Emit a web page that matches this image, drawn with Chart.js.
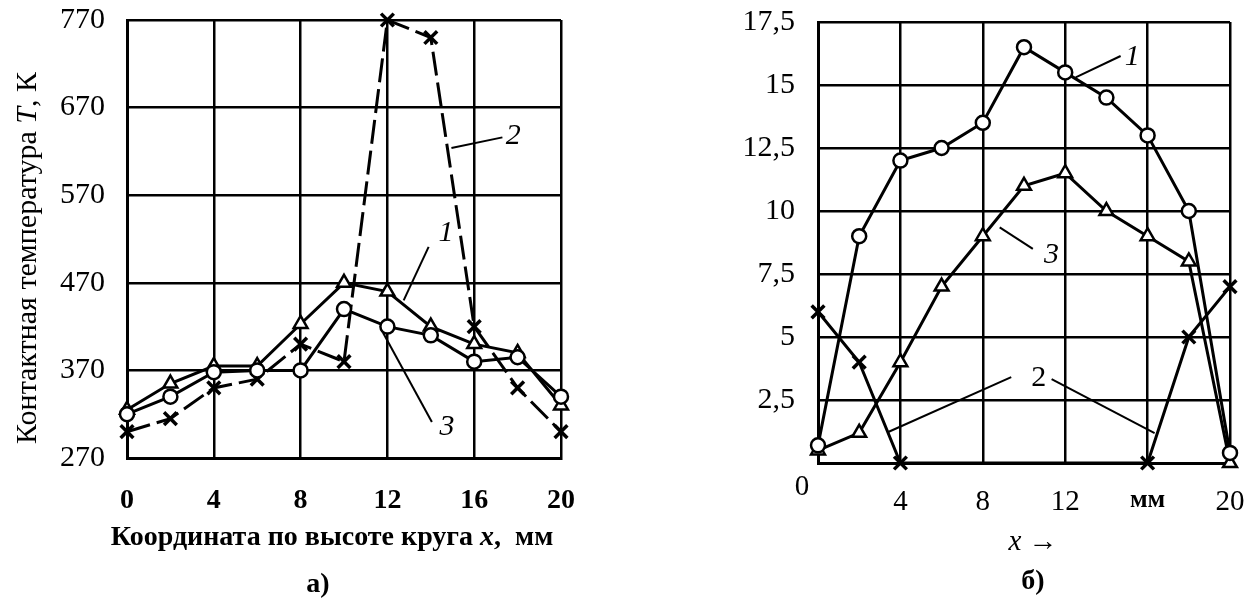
<!DOCTYPE html>
<html>
<head>
<meta charset="utf-8">
<script src="https://cdn.jsdelivr.net/npm/chart.js@4.4.1/dist/chart.umd.min.js"></script>
<style>
  html, body { margin: 0; padding: 0; background: #fff; }
  #boxA { position: absolute; left: 0; top: 0; width: 630px; height: 598px; }
  #boxB { position: absolute; left: 630px; top: 0; width: 627px; height: 598px; }
</style>
</head>
<body>
<div id="boxA"><canvas id="chartA" width="630" height="598"></canvas></div>
<div id="boxB"><canvas id="chartB" width="627" height="598"></canvas></div>
<script>
// ---- данные: а) контактная температура ----
const xMm = [0, 2, 4, 6, 8, 10, 12, 14, 16, 18, 20];
const tempCurve1 = [325, 355, 375, 375, 423, 470, 460, 420, 400, 390, 330];  // треугольники
const tempCurve2 = [300, 315, 350, 360, 400, 380, 770, 750, 420, 350, 300];  // крестики
const tempCurve3 = [320, 340, 368, 370, 370, 440, 420, 410, 380, 385, 340];  // кружки
const tempTicks = [270, 370, 470, 570, 670, 770];
const xTicksA = [0, 4, 8, 12, 16, 20];

// ---- данные: б) ----
const valCurve1 = [0.7, 9, 12, 12.5, 13.5, 16.5, 15.5, 14.5, 13, 10, 0.4];   // кружки
const valCurve3 = [0.5, 1.2, 4, 7, 9, 11, 11.5, 10, 9, 8, 0];               // треугольники
const valCurve2 = [6, 4, 0, null, null, null, null, null, 0, 5, 7];          // крестики
const valTicks = [0, 2.5, 5, 7.5, 10, 12.5, 15, 17.5];
const xTicksB = [0, 4, 8, 12, 16, 20];
const xTickLabelsB = ["", "4", "8", "12", "мм", "20"];

// подписи кривых (в координатах данных)
const notesA = [
  { text: "2", x: 17.8, y: 638, from: [14.95, 624], to: [17.3, 636] },
  { text: "1", x: 14.7, y: 527, from: [13.9, 511], to: [12.75, 450] },
  { text: "3", x: 14.75, y: 305, from: [14.05, 311], to: [11.8, 413] }
];
const notesB = [
  { text: "1", x: 15.26, y: 16.1, from: [14.69, 16.15], to: [12.51, 15.3] },
  { text: "3", x: 11.34, y: 8.25, from: [10.43, 8.5], to: [8.82, 9.35] },
  { text: "2", x: 10.71, y: 3.37, from: [9.38, 3.41], to: [3.41, 1.23], upright: true },
  { text: "", x: 0, y: 0, from: [11.34, 3.33], to: [16.34, 1.19] }
];

const FONT = '"Liberation Serif", "Times New Roman", serif';

function pts(xs, ys) {
  return xs.map((x, i) => ({ x: x, y: ys[i] }));
}

function drawParts(ctx, parts, x, y, size, rotate) {
  ctx.save();
  ctx.translate(x, y);
  if (rotate) ctx.rotate(-Math.PI / 2);
  ctx.fillStyle = "#000";
  ctx.textBaseline = "middle";
  ctx.textAlign = "left";
  let total = 0;
  parts.forEach(p => {
    ctx.font = `${p.s} ${size}px ${FONT}`;
    p.w = ctx.measureText(p.t).width;
    total += p.w;
  });
  let cx = -total / 2;
  parts.forEach(p => {
    ctx.font = `${p.s} ${size}px ${FONT}`;
    ctx.fillText(p.t, cx, 0);
    cx += p.w;
  });
  ctx.restore();
}

function notesPlugin(notes, extra) {
  return {
    id: "notes",
    afterDraw(chart) {
      const ctx = chart.ctx;
      const xs = chart.scales.x, ys = chart.scales.y;
      ctx.save();
      ctx.strokeStyle = "#000";
      ctx.lineWidth = 2;
      notes.forEach(n => {
        ctx.beginPath();
        ctx.moveTo(xs.getPixelForValue(n.from[0]), ys.getPixelForValue(n.from[1]));
        ctx.lineTo(xs.getPixelForValue(n.to[0]), ys.getPixelForValue(n.to[1]));
        ctx.stroke();
        if (n.text) {
          ctx.fillStyle = "#000";
          ctx.font = `${n.upright ? "" : "italic"} 30px ${FONT}`;
          ctx.textAlign = "center";
          ctx.textBaseline = "middle";
          ctx.fillText(n.text, xs.getPixelForValue(n.x), ys.getPixelForValue(n.y));
        }
      });
      ctx.restore();
      extra(chart, ctx);
    }
  };
}

function lineSet(data, style, radius, dash) {
  return {
    data: data,
    borderColor: "#000",
    borderWidth: 3,
    borderDash: dash || [],
    pointStyle: style,
    pointRadius: radius,
    pointBorderWidth: style === "crossRot" ? 3.5 : 2.5,
    pointBorderColor: "#000",
    pointBackgroundColor: "#fff",
    spanGaps: true,
    clip: false,
    tension: 0
  };
}

// без авто-отступов под крайние подписи
function noPad(s) {
  s.paddingLeft = 0; s.paddingRight = 0; s.paddingTop = 0; s.paddingBottom = 0;
}

const gridOpts = { color: "#000", lineWidth: 2.5, drawTicks: false };
const borderOpts = { display: true, color: "#000", width: 3 };

// ==================== а) ====================
new Chart(document.getElementById("chartA"), {
  type: "line",
  data: {
    datasets: [
      lineSet(pts(xMm, tempCurve3), "circle", 7),
      lineSet(pts(xMm, tempCurve1), "triangle", 8),
      lineSet(pts(xMm, tempCurve2), "crossRot", 9, [24, 7])
    ]
  },
  options: {
    responsive: false,
    animation: false,
    layout: { padding: { left: 0, top: 20, right: 69, bottom: 0 } },
    plugins: { legend: { display: false }, tooltip: { enabled: false } },
    scales: {
      x: {
        type: "linear", min: 0, max: 20,
        afterBuildTicks: s => { s.ticks = xTicksA.map(v => ({ value: v })); },
        afterFit: s => { s.height = 140; noPad(s); },
        grid: gridOpts, border: borderOpts,
        ticks: { color: "#000", padding: 26, font: { family: FONT, size: 28, weight: "bold" } }
      },
      y: {
        type: "linear", min: 270, max: 770,
        afterBuildTicks: s => { s.ticks = tempTicks.map(v => ({ value: v })); },
        afterFit: s => { s.width = 127; noPad(s); },
        grid: gridOpts, border: borderOpts,
        ticks: { color: "#000", padding: 22, font: { family: FONT, size: 30 } }
      }
    }
  },
  plugins: [notesPlugin(notesA, (chart, ctx) => {
    drawParts(ctx, [
      { t: "Контактная температура ", s: "" },
      { t: "T", s: "italic" },
      { t: ", К", s: "" }
    ], 28, 258, 30, true);
    drawParts(ctx, [
      { t: "Координата по высоте круга ", s: "bold" },
      { t: "x", s: "bold italic" },
      { t: ",  мм", s: "bold" }
    ], 332, 538, 28, false);
    drawParts(ctx, [{ t: "а)", s: "bold" }], 318, 585, 28, false);
  })]
});

// ==================== б) ====================
new Chart(document.getElementById("chartB"), {
  type: "line",
  data: {
    datasets: [
      lineSet(pts(xMm, valCurve1), "circle", 7),
      lineSet(pts(xMm, valCurve3), "triangle", 8),
      lineSet(pts(xMm, valCurve2), "crossRot", 9)
    ]
  },
  options: {
    responsive: false,
    animation: false,
    layout: { padding: { left: 0, top: 22, right: 27, bottom: 0 } },
    plugins: { legend: { display: false }, tooltip: { enabled: false } },
    scales: {
      x: {
        type: "linear", min: 0, max: 20,
        afterBuildTicks: s => { s.ticks = xTicksB.map(v => ({ value: v })); },
        afterFit: s => { s.height = 135; noPad(s); },
        grid: gridOpts, border: borderOpts,
        ticks: {
          color: "#000", padding: 22,
          callback: (v) => xTickLabelsB[xTicksB.indexOf(v)],
          font: ctx => (ctx.tick && ctx.tick.value === 16)
            ? { family: FONT, size: 26, weight: "bold" }
            : { family: FONT, size: 29 }
        }
      },
      y: {
        type: "linear", min: 0, max: 17.5,
        afterBuildTicks: s => { s.ticks = valTicks.map(v => ({ value: v })); },
        afterFit: s => { s.width = 188; noPad(s); },
        grid: gridOpts, border: borderOpts,
        ticks: {
          color: "#000", padding: 23, font: { family: FONT, size: 30 },
          callback: v => v === 0 ? "" : String(v).replace(".", ",")
        }
      }
    }
  },
  plugins: [notesPlugin(notesB, (chart, ctx) => {
    drawParts(ctx, [{ t: "0", s: "" }], chart.chartArea.left - 16, 487, 29, false);
    drawParts(ctx, [
      { t: "x", s: "italic" },
      { t: " →", s: "" }
    ], 403, 542, 29, false);
    drawParts(ctx, [{ t: "б)", s: "bold" }], 403, 582, 28, false);
  })]
});
</script>
</body>
</html>
